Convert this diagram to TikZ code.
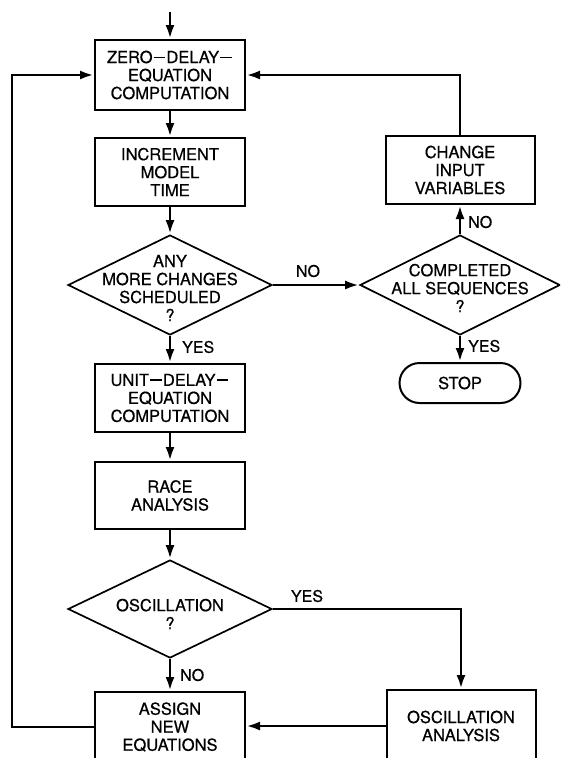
\documentclass[tikz,border=0pt]{standalone}
\usepackage{fontspec}
\setmainfont{TeX Gyre Heros}[FakeBold=0.5]
\usetikzlibrary{shapes.geometric,arrows.meta}
\newcommand{\dsh}{\kern0.06em\rule[0.3em]{0.72em}{0.09em}\kern0.06em}
\tikzset{
  box/.style={draw, line width=2pt, minimum width=150pt, inner sep=0pt, align=center, font=\fontsize{16.5}{18}\selectfont},
  dia/.style={draw, diamond, line width=1.7pt, inner sep=0pt},
  txt/.style={align=center, inner sep=0pt, font=\fontsize{16.5}{18}\selectfont},
  lbl/.style={inner sep=0pt, font=\fontsize{16}{17}\selectfont},
  arr/.style={line width=2.8pt, -{Latex[length=14pt,width=9pt]}},
  ln/.style={line width=2.8pt}
}
\begin{document}
\begin{tikzpicture}[x=1pt,y=-1pt]
\useasboundingbox (0,0) rectangle (560,758);
\clip (0,0) rectangle (560,758);
% boxes
\node[box, minimum height=70pt] (zero) at (170,75) {ZERO\dsh DELAY\dsh\\EQUATION\\COMPUTATION};
\node[box, minimum height=68pt] (inc) at (170,172) {INCREMENT\\MODEL\\TIME};
\node[dia, minimum width=204pt, minimum height=100pt] (any) at (170,285) {};
\node[txt] (anyt) at (170,288) {ANY\\MORE CHANGES\\SCHEDULED\\?};
\node[box, minimum height=68pt] (unit) at (170,398) {UNIT\dsh DELAY\dsh\\EQUATION\\COMPUTATION};
\node[box, minimum height=67pt] (race) at (170,495.5) {RACE\\ANALYSIS};
\node[dia, minimum width=204pt, minimum height=98pt] (osc) at (170,609) {};
\node[txt] (osct) at (170,614) {OSCILLATION\\?};
\node[box, minimum height=70pt] (assign) at (170,727) {ASSIGN\\NEW\\EQUATIONS};
\node[box, minimum width=149pt, minimum height=72pt] (oscan) at (461,726) {OSCILLATION\\ANALYSIS};
\node[dia, minimum width=200pt, minimum height=100pt] (comp) at (460,285) {};
\node[txt] (compt) at (460,288) {COMPLETED\\ALL SEQUENCES\\?};
\node[box, minimum width=149pt, minimum height=68pt] (change) at (460,170) {CHANGE\\INPUT\\VARIABLES};
\node[box, minimum width=121pt, minimum height=40pt, rounded corners=20pt] (stop) at (460,383) {STOP};
% connectors
\coordinate (start) at (170,12);
\coordinate (L) at (12,400);
\draw[arr] (start) -- (zero.north);
\draw[arr] (zero.south) -- (inc.north);
\draw[arr] (inc.south) -- (any.north);
\draw[arr] (any.south) -- (unit.north);
\draw[arr] (unit.south) -- (race.north);
\draw[arr] (race.south) -- (osc.north);
\draw[arr] (osc.south) -- (assign.north);
\draw[arr] (osc.east) -| (oscan.north);
\draw[arr] (oscan.west) -- (assign.east |- oscan.west);
\draw[arr] (assign.west) -| (L) |- (zero.west);
\draw[arr] (any.east) -- (comp.west);
\draw[arr] (comp.north) -- (change.south);
\draw[arr] (comp.south) -- (stop.north);
\draw[arr] (change.north) |- (zero.east);
% labels
\node[lbl, anchor=west] (l1) at (182,347) {YES};
\node[lbl] (l2) at (308,271) {NO};
\node[lbl, anchor=west] (l3) at (468,222) {NO};
\node[lbl, anchor=west] (l4) at (468,346) {YES};
\node[lbl] (l5) at (307,596) {YES};
\node[lbl, anchor=west] (l6) at (180,675) {NO};
\end{tikzpicture}
\end{document}
